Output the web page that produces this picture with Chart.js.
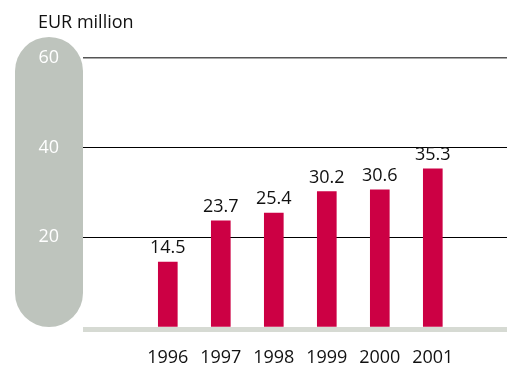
<!DOCTYPE html>
<html>
<head>
<meta charset="utf-8">
<script src="https://cdn.jsdelivr.net/npm/chart.js@4"></script>
<style>
  body { margin: 0; background: #fff; }
</style>
</head>
<body>
<canvas id="myChart" width="512" height="367"></canvas>
<script>
var years = [1996, 1997, 1998, 1999, 2000, 2001];
var values = [14.5, 23.7, 25.4, 30.2, 30.6, 35.3];
var yTicks = [20, 40, 60];
var unitLabel = 'EUR million';

var font = "'Open Sans', 'DejaVu Sans', sans-serif";

// grey pill behind the y axis, grey baseline and the unit text
var decorPlugin = {
    id: 'decor',
    beforeDraw: function(chart){
        var ctx = chart.ctx;
        var y = chart.scales.y;
        var left = y.left, right = y.right;
        var r = (right - left) / 2;
        var top = y.getPixelForValue(60) - 21;
        var bottom = y.getPixelForValue(0);
        ctx.save();
        ctx.fillStyle = '#bec4bd';
        ctx.beginPath();
        ctx.arc(left + r, top + r, r, Math.PI, 0);
        ctx.arc(left + r, bottom - r, r, 0, Math.PI);
        ctx.closePath();
        ctx.fill();
        ctx.restore();
    },
    afterDatasetsDraw: function(chart){
        var ctx = chart.ctx;
        var area = chart.chartArea;
        var y0 = chart.scales.y.getPixelForValue(0);
        ctx.save();
        ctx.fillStyle = '#d6dad3';
        ctx.fillRect(area.left, y0, area.right - area.left, 5);
        // value labels
        ctx.fillStyle = '#111';
        ctx.font = '18px ' + font;
        ctx.textAlign = 'center';
        ctx.textBaseline = 'alphabetic';
        chart.getDatasetMeta(0).data.forEach(function(bar, i){
            ctx.fillText(values[i].toFixed(1), bar.x, bar.y - 9);
        });
        ctx.textAlign = 'left';
        ctx.fillText(unitLabel, 38, 28);
        ctx.restore();
    }
};

var dataObj = {
    type: 'bar',
    data: {
        datasets: [{
            data: years.map(function(yr, i){ return {x: yr, y: values[i]}; }),
            backgroundColor: '#cc0044',
            barThickness: 19
        }]
    },
    options: {
        responsive: false,
        animation: false,
        layout: { padding: { left: 15, right: 5, top: 58, bottom: 0 } },
        plugins: { legend: { display: false }, tooltip: { enabled: false } },
        scales: {
            x: {
                type: 'linear',
                offset: false,
                min: 1994.4,
                max: 2002.4,
                afterBuildTicks: function(s){ s.ticks = years.map(function(v){ return {value: v}; }); },
                afterFit: function(s){ s.height = 40; },
                grid: { display: false, drawTicks: false },
                border: { display: false },
                ticks: {
                    padding: 20,
                    color: '#111',
                    font: { family: font, size: 18 },
                    callback: function(v){ return String(v); }
                }
            },
            y: {
                min: 0,
                max: 60,
                afterBuildTicks: function(s){ s.ticks = [0].concat(yTicks).map(function(v){ return {value: v}; }); },
                afterFit: function(s){ s.width = 68; },
                grid: {
                    drawTicks: false,
                    color: function(c){
                        if (c.tick.value === 0) return 'rgba(0,0,0,0)';
                        return c.tick.value === 60 ? '#555' : '#000';
                    },
                    lineWidth: function(c){ return c.tick.value === 60 ? 1.5 : 1; }
                },
                border: { display: false },
                ticks: {
                    padding: 24,
                    color: '#fff',
                    font: { family: font, size: 18 },
                    callback: function(v){ return v === 0 ? '' : v; }
                }
            }
        }
    },
    plugins: [decorPlugin]
};

var ctx = document.getElementById('myChart').getContext('2d');
window.myBar = new Chart(ctx, dataObj);
</script>
</body>
</html>
